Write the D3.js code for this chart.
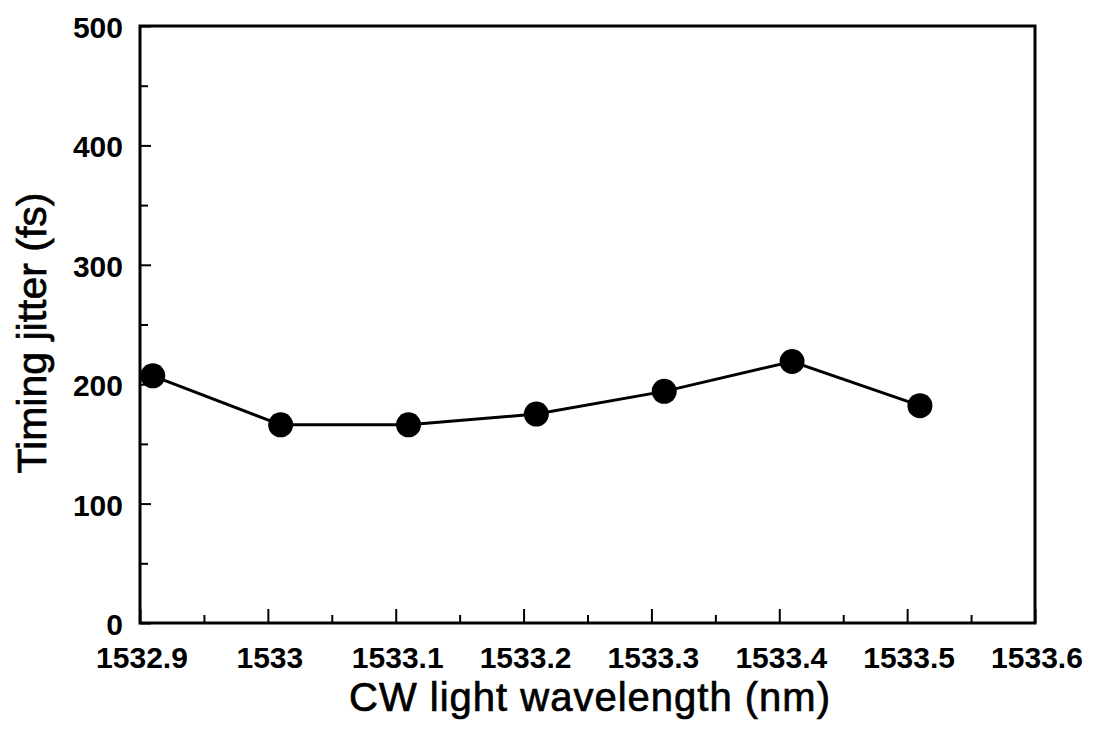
<!DOCTYPE html>
<html>
<head>
<meta charset="utf-8">
<script src="https://cdn.jsdelivr.net/npm/d3@7"></script>
<style>
  html, body { margin: 0; padding: 0; background: #fff; }
  svg { display: block; }
  text { font-family: "Liberation Sans", Arial, Helvetica, sans-serif; fill: #000; }
</style>
</head>
<body>
<svg id="chart" width="1100" height="730"></svg>
<script>
// Measured jitter vs CW wavelength
const wavelengths = [1532.91, 1533.01, 1533.11, 1533.21, 1533.31, 1533.41, 1533.51];
const jitterFs = [207, 166, 166, 175, 194, 219, 182];

const xTickValues = [1532.9, 1533.0, 1533.1, 1533.2, 1533.3, 1533.4, 1533.5, 1533.6];
const xTickLabels = ["1532.9", "1533", "1533.1", "1533.2", "1533.3", "1533.4", "1533.5", "1533.6"];
const xMinorValues = [1532.95, 1533.05, 1533.15, 1533.25, 1533.35, 1533.45, 1533.55];
const yTickValues = [0, 100, 200, 300, 400, 500];
const yMinorValues = [50, 150, 250, 350, 450];

const xTitle = "CW light wavelength (nm)";
const yTitle = "Timing jitter (fs)";

const plotLeft = 140, plotRight = 1035, plotTop = 26, plotBottom = 623;

const svg = d3.select("#chart");
const x = d3.scaleLinear().domain([1532.9, 1533.6]).range([plotLeft, plotRight]);
const y = d3.scaleLinear().domain([0, 500]).range([plotBottom, plotTop]);

// inward ticks
const xMajor = d3.axisBottom(x).tickValues(xTickValues).tickSize(-14).tickFormat("");
const xMinor = d3.axisBottom(x).tickValues(xMinorValues).tickSize(-8).tickFormat("");
const yMajor = d3.axisLeft(y).tickValues(yTickValues).tickSize(-11).tickFormat("");
const yMinor = d3.axisLeft(y).tickValues(yMinorValues).tickSize(-8).tickFormat("");

function styleAxis(g) {
  g.select(".domain").remove();
  g.selectAll(".tick line").attr("stroke", "#000").attr("stroke-width", 2);
}

svg.append("g").attr("transform", `translate(0,${plotBottom})`).call(xMajor).call(styleAxis);
svg.append("g").attr("transform", `translate(0,${plotBottom})`).call(xMinor).call(styleAxis);
svg.append("g").attr("transform", `translate(${plotLeft},0)`).call(yMajor).call(styleAxis);
svg.append("g").attr("transform", `translate(${plotLeft},0)`).call(yMinor).call(styleAxis);

// frame
svg.append("rect")
  .attr("x", plotLeft).attr("y", plotTop)
  .attr("width", plotRight - plotLeft).attr("height", plotBottom - plotTop)
  .attr("fill", "none").attr("stroke", "#000").attr("stroke-width", 3);

// tick labels
svg.append("g").selectAll("text").data(xTickValues).join("text")
  .attr("x", d => x(d) + 2).attr("y", plotBottom + 45)
  .attr("text-anchor", "middle")
  .attr("font-size", 30).attr("font-weight", "bold")
  .text((d, i) => xTickLabels[i]);

svg.append("g").selectAll("text").data(yTickValues).join("text")
  .attr("x", plotLeft - 17).attr("y", d => y(d) + 12)
  .attr("text-anchor", "end")
  .attr("font-size", 30).attr("font-weight", "bold")
  .text(d => d);

// axis titles (medium weight)
svg.append("text")
  .attr("x", 590).attr("y", 711)
  .attr("text-anchor", "middle")
  .attr("font-size", 40).attr("letter-spacing", 1)
  .attr("stroke", "#000").attr("stroke-width", 0.7)
  .text(xTitle);

svg.append("text")
  .attr("transform", "translate(46,333) rotate(-90)")
  .attr("text-anchor", "middle")
  .attr("font-size", 41)
  .attr("stroke", "#000").attr("stroke-width", 0.7)
  .text(yTitle);

// series
const pts = wavelengths.map((w, i) => [w, jitterFs[i]]);
svg.append("path")
  .datum(pts)
  .attr("fill", "none").attr("stroke", "#000").attr("stroke-width", 3)
  .attr("d", d3.line().x(d => x(d[0])).y(d => y(d[1])));

svg.append("g").selectAll("circle").data(pts).join("circle")
  .attr("cx", d => x(d[0])).attr("cy", d => y(d[1]))
  .attr("r", 12.5).attr("fill", "#000");
</script>
</body>
</html>
